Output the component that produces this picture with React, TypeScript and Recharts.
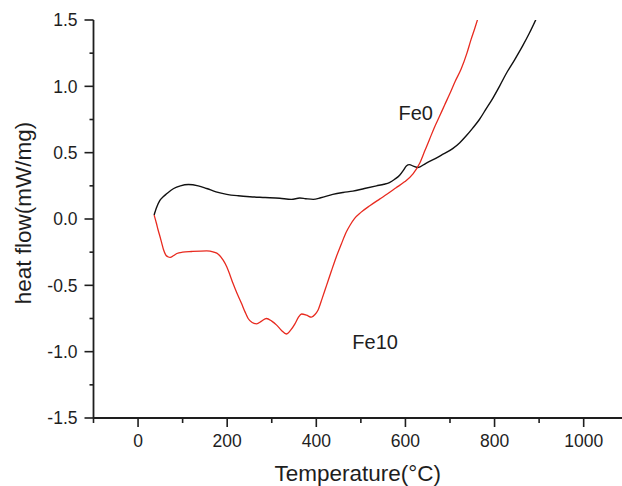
import React from "react";
import {
  LineChart,
  Line,
  XAxis,
  YAxis,
  ReferenceDot,
} from "recharts";

const fe0Temp = [
  36, 42, 49, 57, 64, 80, 95, 113, 135, 154, 175, 199, 225, 251, 285, 318, 344,
  363, 376, 393, 410, 437, 460, 482, 508, 535, 552, 564, 576, 587, 596, 602, 609,
  618, 628, 646, 661, 680, 706, 722, 736, 751, 766, 781, 796, 811, 826, 845, 863,
  878, 893,
];
const fe0Flow = [
  0.03, 0.09, 0.14, 0.17, 0.19, 0.23, 0.25, 0.26, 0.25, 0.23, 0.205, 0.186,
  0.175, 0.168, 0.162, 0.156, 0.148, 0.158, 0.153, 0.148, 0.16, 0.186, 0.2, 0.21,
  0.23, 0.25, 0.262, 0.275, 0.3, 0.33, 0.37, 0.4, 0.41, 0.398, 0.388, 0.42,
  0.445, 0.48, 0.53, 0.575, 0.625, 0.685, 0.75, 0.83, 0.91, 1.0, 1.095, 1.2,
  1.305, 1.4, 1.505,
];

const fe10Temp = [
  36, 41, 45, 49, 53, 57, 62, 67, 72, 80, 87, 100, 120, 154, 170, 180, 191, 199,
  206, 213, 222, 232, 240, 247, 256, 266, 277, 288, 300, 311, 322, 333, 342, 352,
  360, 367, 378, 389, 397, 404, 413, 423, 434, 445, 456, 467, 476, 486, 500, 520,
  542, 560, 579, 598, 617, 632, 643, 654, 665, 676, 688, 699, 712, 725, 738, 747,
  755, 762,
];
const fe10Flow = [
  0.03, -0.03, -0.083, -0.13, -0.18, -0.23, -0.27, -0.285, -0.29, -0.275, -0.26,
  -0.25, -0.245, -0.24, -0.25, -0.265, -0.31, -0.36, -0.42, -0.485, -0.56,
  -0.635, -0.7, -0.75, -0.78, -0.79, -0.77, -0.75, -0.77, -0.8, -0.84, -0.867,
  -0.84, -0.79, -0.74, -0.716, -0.725, -0.74, -0.72, -0.686, -0.6, -0.5,
  -0.39, -0.284, -0.19, -0.1, -0.045, 0.005, 0.05, 0.1, 0.15, 0.19, 0.235, 0.28,
  0.34, 0.42, 0.51, 0.6, 0.69, 0.77, 0.86, 0.94, 1.04, 1.13, 1.25, 1.35, 1.43,
  1.505,
];

const xTicks = [-100, 0, 100, 200, 300, 400, 500, 600, 700, 800, 900, 1000];
const yTicks = [
  -1.5, -1.25, -1, -0.75, -0.5, -0.25, 0, 0.25, 0.5, 0.75, 1, 1.25, 1.5,
];

const fe0Data = fe0Temp.map((t, i) => ({ t, v: fe0Flow[i] }));
const fe10Data = fe10Temp.map((t, i) => ({ t, v: fe10Flow[i] }));

const font = "'Liberation Sans', Arial, Helvetica, sans-serif";
const ink = "#1e1e1e";

const XTick = (props: any) => {
  const { x, y, payload } = props;
  const major = payload.value % 200 === 0;
  return (
    <g>
      <line x1={x} y1={y} x2={x} y2={y + (major ? 9 : 5)} stroke={ink} strokeWidth={1.6} />
      {major && (
        <text x={x} y={y + 29} textAnchor="middle" fontSize={17.5} fontFamily={font} fill={ink}>
          {payload.value}
        </text>
      )}
    </g>
  );
};

const YTick = (props: any) => {
  const { x, y, payload } = props;
  const v = payload.value;
  const major = Math.abs(v * 2 - Math.round(v * 2)) < 1e-6;
  return (
    <g>
      <line x1={x - (major ? 9 : 4)} y1={y} x2={x} y2={y} stroke={ink} strokeWidth={1.6} />
      {major && (
        <text x={x - 16} y={y} dy="0.36em" textAnchor="end" fontSize={17.5} fontFamily={font} fill={ink}>
          {v.toFixed(1)}
        </text>
      )}
    </g>
  );
};

export default function App() {
  return (
    <div style={{ position: "absolute", left: 0, top: 0, background: "#fff" }}>
      <LineChart width={622} height={486} margin={{ top: 20, right: 0, bottom: 0, left: 0 }}>
        <XAxis
          dataKey="t"
          type="number"
          domain={[-100, 1086]}
          ticks={xTicks}
          interval={0}
          allowDataOverflow
          height={68}
          tickSize={0}
          tickMargin={0}
          tickLine={false}
          tick={<XTick />}
          axisLine={{ stroke: ink, strokeWidth: 1.8 }}
          label={{
            value: "Temperature(°C)",
            position: "insideBottom",
            offset: 5,
            fontSize: 22.5,
            fontFamily: font,
            fill: ink,
          }}
        />
        <YAxis
          type="number"
          domain={[-1.5, 1.5]}
          ticks={yTicks}
          interval={0}
          allowDataOverflow
          width={93.5}
          tickSize={0}
          tickMargin={0}
          tickLine={false}
          tick={<YTick />}
          axisLine={{ stroke: ink, strokeWidth: 1.8 }}
          label={(p: any) => {
            const vb = p.viewBox;
            const cx = vb.x + 23;
            const cy = vb.y + vb.height / 2 - 6;
            return (
              <text
                x={cx}
                y={cy}
                transform={`rotate(-90 ${cx} ${cy})`}
                textAnchor="middle"
                dy="0.36em"
                fontSize={22.5}
                fontFamily={font}
                fill={ink}
              >
                heat flow(mW/mg)
              </text>
            );
          }}
        />
        <Line
          data={fe0Data}
          dataKey="v"
          type="monotone"
          stroke="#111"
          strokeWidth={1.4}
          dot={false}
          isAnimationActive={false}
        />
        <Line
          data={fe10Data}
          dataKey="v"
          type="monotone"
          stroke="#e82a1f"
          strokeWidth={1.3}
          dot={false}
          isAnimationActive={false}
        />
        <ReferenceDot
          x={623}
          y={0.8}
          r={0}
          fill="none"
          stroke="none"
          label={{ value: "Fe0", position: "center", fontSize: 20, fontFamily: font, fill: ink }}
        />
        <ReferenceDot
          x={532}
          y={-0.927}
          r={0}
          fill="none"
          stroke="none"
          label={{ value: "Fe10", position: "center", fontSize: 20, fontFamily: font, fill: ink }}
        />
      </LineChart>
    </div>
  );
}
